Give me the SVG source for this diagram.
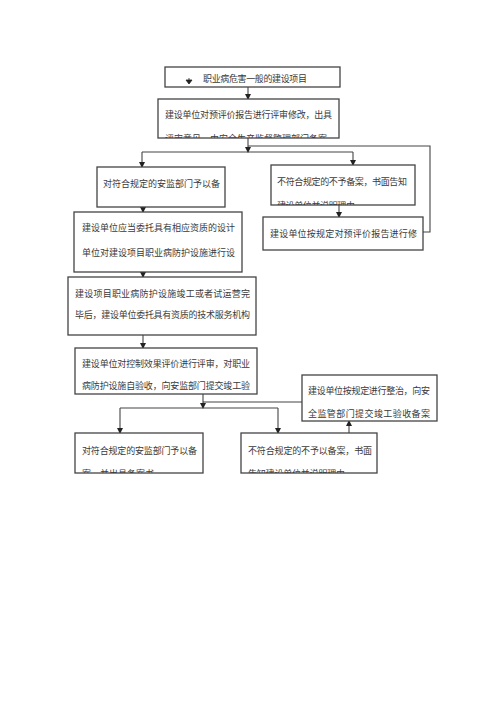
<svg xmlns="http://www.w3.org/2000/svg" width="500" height="707" viewBox="0 0 500 707">
<style>
.box{fill:#fff;stroke:#444;stroke-width:1.3}
.t{font-family:"Noto Sans CJK SC","Noto Sans",sans-serif;font-size:9px;fill:#3a3a3a}
.c{fill:none;stroke:#444;stroke-width:1.1}
</style>
<defs>
<marker id="ah" markerWidth="6" markerHeight="6" refX="5" refY="3" orient="auto" markerUnits="userSpaceOnUse">
<path d="M0,0 L6,3 L0,6 Z" fill="#222"/>
</marker>
<clipPath id="cb2"><rect x="158" y="99" width="181" height="39"/></clipPath>
<clipPath id="cr1"><rect x="271" y="165" width="144" height="40"/></clipPath>
<clipPath id="cbl"><rect x="75" y="433" width="128" height="40"/></clipPath>
<clipPath id="cbr"><rect x="241" y="433" width="136" height="40"/></clipPath>
</defs>
<rect width="500" height="707" fill="#fff"/>

<g id="connectors">
<line class="c" x1="248" y1="87" x2="248" y2="99" marker-end="url(#ah)"/>
<line class="c" x1="248" y1="138" x2="248" y2="152" marker-end="url(#ah)"/>
<line class="c" x1="142" y1="152" x2="353" y2="152"/>
<line class="c" x1="142" y1="152" x2="142" y2="167" marker-end="url(#ah)"/>
<line class="c" x1="353" y1="152" x2="353" y2="165" marker-end="url(#ah)"/>
<polyline class="c" points="423,232 430,232 430,146 248,146"/>
<line class="c" x1="339" y1="205" x2="339" y2="217" marker-end="url(#ah)"/>
<line class="c" x1="143" y1="207" x2="143" y2="212" marker-end="url(#ah)"/>
<line class="c" x1="143" y1="272" x2="143" y2="277" marker-end="url(#ah)"/>
<line class="c" x1="143" y1="335" x2="143" y2="348" marker-end="url(#ah)"/>
<line class="c" x1="203" y1="394" x2="203" y2="408" marker-end="url(#ah)"/>
<line class="c" x1="203" y1="402" x2="302" y2="402"/>
<line class="c" x1="120" y1="408" x2="278" y2="408"/>
<line class="c" x1="120" y1="408" x2="120" y2="433" marker-end="url(#ah)"/>
<line class="c" x1="278" y1="408" x2="278" y2="433" marker-end="url(#ah)"/>
<line class="c" x1="349" y1="433" x2="349" y2="421" marker-end="url(#ah)"/>
</g>

<g id="n1">
<rect class="box" x="165" y="67" width="175" height="20"/>
<path d="M189,78 L189,81 M186,80 L192,80 L189,84 Z" fill="#222" stroke="#222" stroke-width="0.8"/>
<text class="t" x="203" y="82" textLength="104">职业病危害一般的建设项目</text>
</g>

<g id="n2">
<rect class="box" x="158" y="99" width="181" height="39"/>
<text class="t" x="165" y="118" textLength="167">建设单位对预评价报告进行评审修改，出具</text>
<text class="t" x="165" y="141.5" textLength="162" clip-path="url(#cb2)">评审意见，由安全生产监督管理部门备案</text>
</g>

<g id="n3">
<rect class="box" x="97" y="167" width="128" height="40"/>
<text class="t" x="103" y="187" textLength="117">对符合规定的安监部门予以备</text>
</g>

<g id="n4">
<rect class="box" x="271" y="165" width="144" height="40"/>
<text class="t" x="277" y="185" textLength="130">不符合规定的不予备案，书面告知</text>
<text class="t" x="277" y="208.5" textLength="78" clip-path="url(#cr1)">建设单位并说明理由</text>
</g>

<g id="n5">
<rect class="box" x="263" y="217" width="160" height="33"/>
<text class="t" x="270" y="237" textLength="147">建设单位按规定对预评价报告进行修</text>
</g>

<g id="n6">
<rect class="box" x="74" y="212" width="168" height="60"/>
<text class="t" x="82" y="231" textLength="153">建设单位应当委托具有相应资质的设计</text>
<text class="t" x="82" y="256" textLength="153">单位对建设项目职业病防护设施进行设</text>
</g>

<g id="n7">
<rect class="box" x="68" y="277" width="188" height="58"/>
<text class="t" x="75" y="297" textLength="175">建设项目职业病防护设施竣工或者试运营完</text>
<text class="t" x="75" y="318" textLength="175">毕后，建设单位委托具有资质的技术服务机构</text>
</g>

<g id="n8">
<rect class="box" x="75" y="348" width="182" height="46"/>
<text class="t" x="82" y="367" textLength="168">建设单位对控制效果评价进行评审，对职业</text>
<text class="t" x="82" y="389" textLength="168">病防护设施自验收，向安监部门提交竣工验</text>
</g>

<g id="n9">
<rect class="box" x="302" y="375" width="135" height="46"/>
<text class="t" x="308" y="394" textLength="122">建设单位按规定进行整治，向安</text>
<text class="t" x="308" y="417" textLength="122">全监管部门提交竣工验收备案</text>
</g>

<g id="n10">
<rect class="box" x="75" y="433" width="128" height="40"/>
<text class="t" x="82" y="454" textLength="115">对符合规定的安监部门予以备</text>
<text class="t" x="82" y="476.5" textLength="72" clip-path="url(#cbl)">案，并出具备案书</text>
</g>

<g id="n11">
<rect class="box" x="241" y="433" width="136" height="40"/>
<text class="t" x="248" y="454" textLength="124">不符合规定的不予以备案，书面</text>
<text class="t" x="248" y="476.5" textLength="97" clip-path="url(#cbr)">告知建设单位并说明理由</text>
</g>
</svg>
